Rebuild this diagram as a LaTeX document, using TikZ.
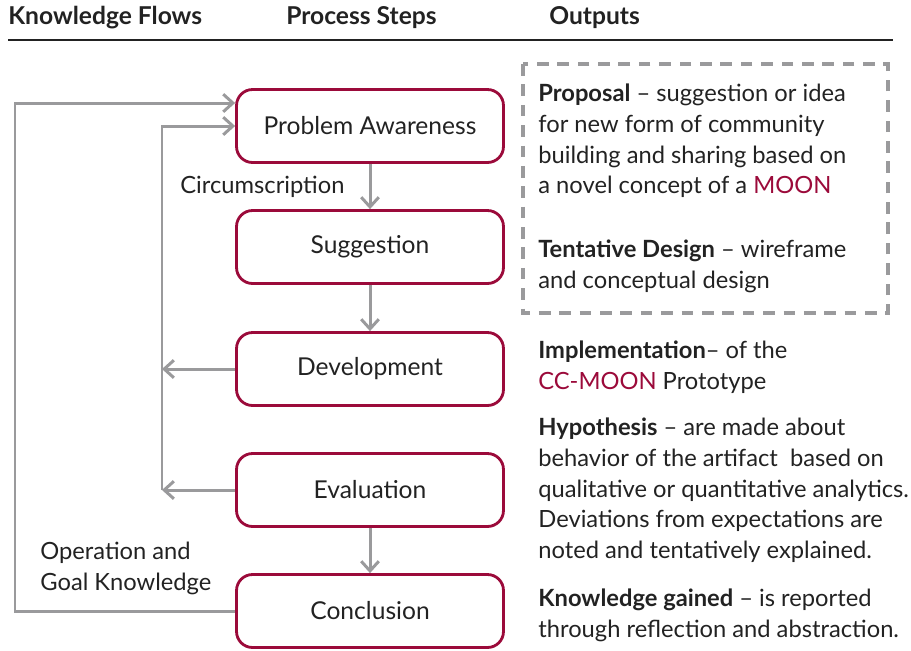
\documentclass[tikz,border=0pt]{standalone}
\usepackage{fontspec}
\setmainfont{Lato}
\usetikzlibrary{arrows.meta}
\definecolor{crimson}{HTML}{9B0A3A}
\definecolor{flowgrey}{HTML}{9A9A9C}
\definecolor{inkgrey}{HTML}{222222}

\begin{document}
\begin{tikzpicture}
[x=0.02cm,y=-0.02cm,%
  every node/.style={text=inkgrey,inner sep=0pt},%
  stepbox/.style={draw=crimson,line width=1.6pt,rounded corners=0.32cm,%
    minimum width=5.34cm,minimum height=1.46cm,font=\fontsize{14}{17}\selectfont},%
  flow/.style={draw=flowgrey,line width=1.7pt,-{Straight Barb[length=5.5pt,width=10pt]}},%
  outtext/.style={anchor=north west,align=left,font=\fontsize{13.5}{17.4}\selectfont},%
  head/.style={anchor=west,font=\bfseries\fontsize{14}{17}\selectfont}]
\useasboundingbox (0,0) rectangle (911,650);
% header
\node[head] (kf) at (8,18) {Knowledge Flows};
\node[head] (ps) at (286,18) {Process Steps};
\node[head] (op) at (549,18) {Outputs};
\draw[inkgrey,line width=1.1pt] (8,40) -- (893,40);
% process steps
\node[stepbox] (aware) at (370,126) {Problem Awareness};
\node[stepbox] (sugg) at (370,247) {Suggestion};
\node[stepbox] (devel) at (370,369) {Development};
\node[stepbox] (evalu) at (370,490) {Evaluation};
\node[stepbox] (concl) at (370,611) {Conclusion};
\draw[flow] (aware) -- (sugg);
\draw[flow] (sugg) -- (devel);
\draw[flow] (evalu) -- (concl);
% knowledge flows
\coordinate (inner) at (162,369);
\coordinate (innerlow) at (162,490);
\draw[flow] (devel.west) -- (inner);
\draw[flow] (evalu.west) -- (innerlow);
\draw[flow] (innerlow) -- (162,126) -- (aware.west);
\draw[flow] (concl.west) -- (15,611) -- (15,103) -- (aware.west |- 0,103);
\node[anchor=west,font=\fontsize{13.5}{17}\selectfont] (circ) at (180,187) {Circumscription};
\node[anchor=north west,align=left,font=\fontsize{13.5}{17.4}\selectfont] (ogk) at (40,542)
  {Operation and\\Goal Knowledge};
% outputs
\draw[flowgrey,line width=2.3pt,dash pattern=on 6.6pt off 5pt] (523,64) rectangle (888,313);
\node[outtext] (prop) at (538,84)
  {\textbf{Proposal} -- suggestion or idea\\for new form of community\\building and sharing based on\\a novel concept of a \textcolor{crimson}{MOON}};
\node[outtext] (tent) at (538,240)
  {\textbf{Tentative Design} -- wireframe\\and conceptual design};
\node[outtext] (impl) at (538,341)
  {\textbf{Implementation}-- of the\\\textcolor{crimson}{CC-MOON} Prototype};
\node[outtext] (hypo) at (538,418)
  {\textbf{Hypothesis} -- are made about\\behavior of the artifact\ \ based on\\qualitative or quantitative analytics.\\Deviations from expectations are\\noted and tentatively explained.};
\node[outtext] (know) at (538,589)
  {\textbf{Knowledge gained} -- is reported\\through reflection and abstraction.};
\end{tikzpicture}
\end{document}
